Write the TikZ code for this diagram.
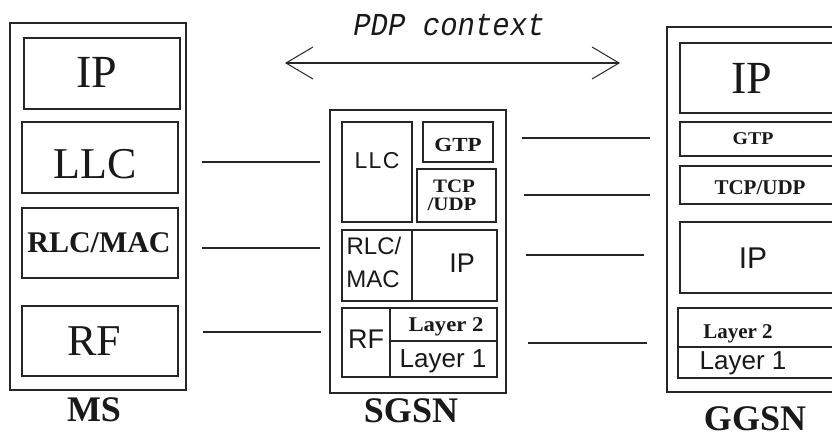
\documentclass[tikz,border=0pt]{standalone}
\usepackage{fontspec}
\setmainfont{Liberation Serif}
\newfontfamily\sansf{Liberation Sans}
\newfontfamily\monof{Liberation Mono}
\usetikzlibrary{arrows.meta}
\newcommand\fs[1]{\fontsize{#1}{#1}\selectfont}
\begin{document}
\begin{tikzpicture}[x=1pt,y=-1pt,
  box/.style={draw=black!85, line width=1.3pt, inner sep=0pt, outer sep=0pt, anchor=north west},
  txt/.style={inner sep=0pt, outer sep=0pt, anchor=base, text=black!90},
  serifbig/.style={txt, font=\fs{46}},
  seriflab/.style={txt, font=\bfseries\fs{36}},
  sbold/.style={txt, font=\bfseries\fs{20}},
  sansl/.style={txt, font=\sansf\fs{26}},
  conn/.style={draw=black!85, line width=1.4pt}]
\useasboundingbox (0,0) rectangle (832,437);
\clip (0,0) rectangle (832,437);
\fill[white] (0,0) rectangle (832,437);
% ---------------- MS ----------------
\node[box, minimum width=176pt, minimum height=367pt] (ms) at (10,23) {};
\node[box, minimum width=156pt, minimum height=71pt] (msip) at (24,38) {};
\node[box, minimum width=156pt, minimum height=71pt] (msllc) at (22,122) {};
\node[box, minimum width=156pt, minimum height=70pt] (msrlc) at (22,208) {};
\node[box, minimum width=156pt, minimum height=70pt] (msrf) at (22,306) {};
\node[serifbig] (tmsip) at (97,87) {IP};
\node[serifbig, font=\fs{44}] (tmsllc) at (95,178) {LLC};
\node[txt, font=\bfseries\fs{30}] (tmsrlc) at (99,252) {RLC/MAC};
\node[serifbig, font=\fs{44}] (tmsrf) at (94,355) {RF};
\node[seriflab] (lms) at (94,421) {MS};
% ---------------- SGSN ----------------
\node[box, minimum width=176pt, minimum height=283pt] (sgsn) at (330,110) {};
\node[box, minimum width=70pt, minimum height=100pt] (sgllc) at (342,122) {};
\node[box, minimum width=70pt, minimum height=40pt] (sggtp) at (423,122) {};
\node[box, minimum width=79pt, minimum height=53pt] (sgtcp) at (417,169) {};
\node[box, minimum width=70pt, minimum height=71pt] (sgrlc) at (342,230) {};
\node[box, minimum width=85pt, minimum height=71pt] (sgip) at (412,230) {};
\node[box, minimum width=48pt, minimum height=69pt] (sgrf) at (342,308) {};
\node[box, minimum width=107pt, minimum height=33pt] (sgl2) at (390,308) {};
\node[box, minimum width=107pt, minimum height=36pt] (sgl1) at (390,341) {};
\node[txt, font=\sansf\fs{23}\addfontfeature{LetterSpace=6}] (tsgllc) at (377,168) {LLC};
\node[sbold, xscale=1.15] (tsggtp) at (458,151) {GTP};
\node[sbold, font=\bfseries\fs{19}, xscale=1.1] (tsgtcp) at (454,192) {TCP};
\node[sbold, font=\bfseries\fs{19}, xscale=1.1] (tsgudp) at (452,210) {/UDP};
\node[txt, font=\sansf\fs{24}] (tsgrlc) at (374,254) {RLC/};
\node[txt, font=\sansf\fs{24}] (tsgmac) at (373,287) {MAC};
\node[txt, font=\sansf\fs{27}] (tsgip) at (462,272) {IP};
\node[txt, font=\sansf\fs{27}] (tsgrf) at (366,348) {RF};
\node[sbold, font=\bfseries\fs{21}, xscale=1.08] (tsgl2) at (446,331) {Layer 2};
\node[sansl] (tsgl1) at (443,367) {Layer 1};
\node[seriflab] (lsgsn) at (411,422) {SGSN};
% ---------------- GGSN ----------------
\node[box, minimum width=180pt, minimum height=365pt] (ggsn) at (667,27) {};
\node[box, minimum width=165pt, minimum height=70pt] (ggip) at (680,43) {};
\node[box, minimum width=165pt, minimum height=34pt] (gggtp) at (680,122) {};
\node[box, minimum width=165pt, minimum height=38pt] (ggtcp) at (680,166) {};
\node[box, minimum width=165pt, minimum height=71pt] (ggip2) at (680,222) {};
\node[box, minimum width=167pt, minimum height=39pt] (ggl2) at (678,308) {};
\node[box, minimum width=167pt, minimum height=31pt] (ggl1) at (678,347) {};
\node[serifbig] (tggip) at (752,93) {IP};
\node[sbold, font=\bfseries\fs{18}, xscale=1.1] (tgggtp) at (753,144) {GTP};
\node[sbold, font=\bfseries\fs{21}] (tggtcp) at (760,194) {TCP/UDP};
\node[txt, font=\sansf\fs{30}] (tggip2) at (753,268) {IP};
\node[sbold, font=\bfseries\fs{21}] (tggl2) at (738,338) {Layer 2};
\node[sansl] (tggl1) at (743,369) {Layer 1};
\node[seriflab] (lggsn) at (755,430) {GGSN};
% ---------------- connectors ----------------
\coordinate (a1) at (202,162); \coordinate (b1) at (320,162);
\coordinate (a2) at (202,248); \coordinate (b2) at (320,248);
\coordinate (a3) at (203,332); \coordinate (b3) at (321,332);
\draw[conn] (a1) -- (b1);
\draw[conn] (a2) -- (b2);
\draw[conn] (a3) -- (b3);
\coordinate (c1) at (522,138); \coordinate (d1) at (650,138);
\coordinate (c2) at (524,195); \coordinate (d2) at (650,195);
\coordinate (c3) at (526,255); \coordinate (d3) at (644,255);
\coordinate (c4) at (528,343); \coordinate (d4) at (647,343);
\draw[conn] (c1) -- (d1);
\draw[conn] (c2) -- (d2);
\draw[conn] (c3) -- (d3);
\draw[conn] (c4) -- (d4);
% ---------------- PDP context ----------------
\coordinate (pl) at (285,63); \coordinate (pr) at (620,63);
\draw[conn, line width=1.2pt, {Straight Barb[length=27pt,width=32pt,line width=1pt]}-{Straight Barb[length=27pt,width=32pt,line width=1pt]}] (pl) -- (pr);
\node[txt, font=\monof\itshape\fs{29}, yscale=1.1] (pdp) at (449,35) {PDP context};
\end{tikzpicture}
\end{document}
